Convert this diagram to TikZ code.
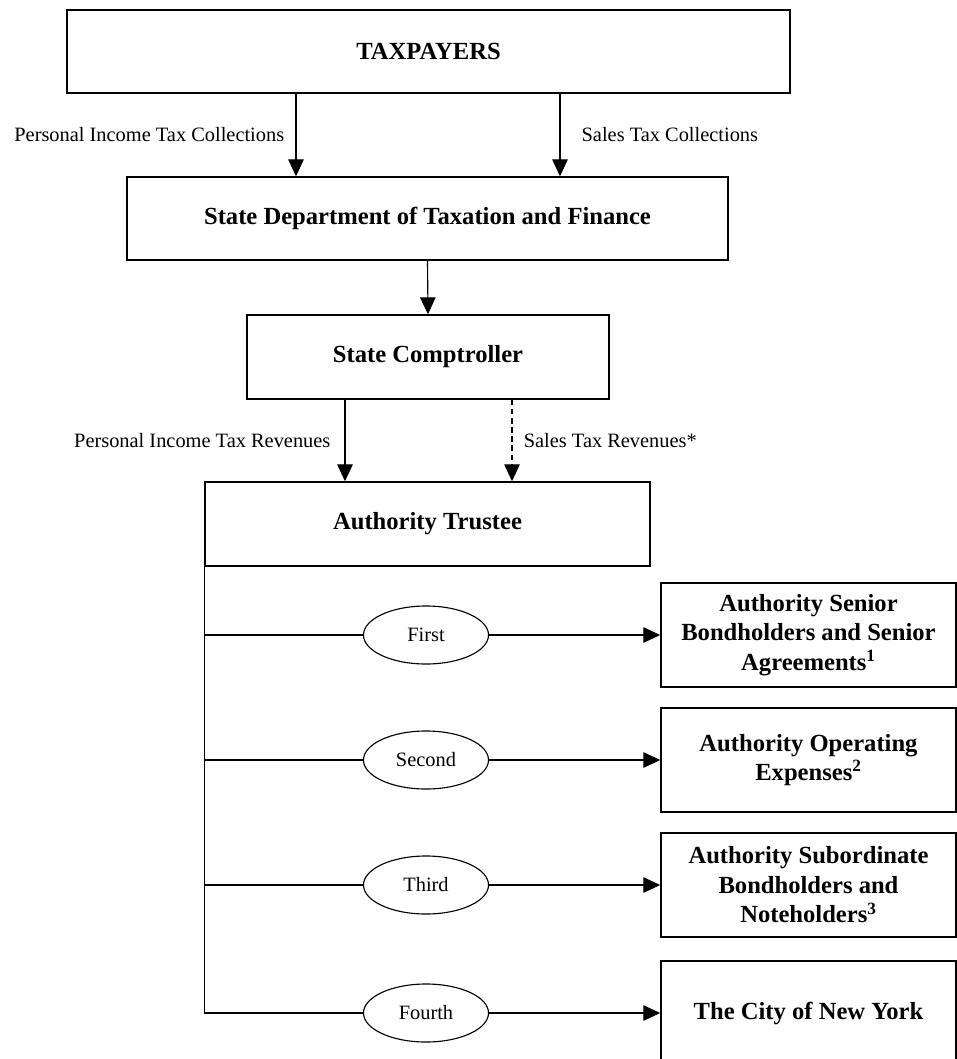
\documentclass[tikz,border=0pt]{standalone}
\usepackage{fontspec}
\setmainfont{Liberation Serif}
\usetikzlibrary{arrows.meta, shapes.geometric, positioning}
\tikzset{
  box/.style       = {draw, line width=1pt, align=center, inner sep=2pt,
                      font=\fontsize{17.5}{21}\selectfont\bfseries},
  flowarrow/.style = {-{Triangle[length=12pt, width=11pt]}, line width=0.8pt},
  branch/.style    = {line width=0.8pt},
  rank/.style      = {draw, ellipse, line width=0.8pt, minimum width=3.125cm,
                      minimum height=1.45cm, inner sep=0pt,
                      font=\fontsize{14.5}{17}\selectfont},
  lbl/.style       = {font=\fontsize{14.5}{17}\selectfont, inner sep=0pt},
  payee/.style     = {box, minimum width=7.375cm, minimum height=2.6cm},
}

\begin{document}
\begin{tikzpicture}[x=0.025cm, y=-0.025cm]
  \useasboundingbox (0,0) rectangle (957,1059);
  % top of the chain
  \node[box, minimum width=18.075cm, minimum height=2.075cm] (taxpayers) at (428.5,51.5) {TAXPAYERS};
  \node[box, minimum width=15.025cm, minimum height=2.075cm] (dept) at (427.5,218.5) {State Department of Taxation and Finance};
  \node[box, minimum width=9.05cm, minimum height=2.1cm] (comptroller) at (428,357) {State Comptroller};
  \node[box, minimum width=11.125cm, minimum height=2.1cm] (trustee) at (427.5,524) {Authority Trustee};
  % columns for the two streams
  \coordinate (pitIn)   at (296,0);
  \coordinate (salesIn) at (560,0);
  \coordinate (pitOut)  at (345,0);
  \coordinate (salesOut) at (512,0);
  \draw[flowarrow] (taxpayers.south -| pitIn) -- (dept.north -| pitIn)
    node[lbl, midway, left=8pt] {Personal Income Tax Collections};
  \draw[flowarrow] (taxpayers.south -| salesIn) -- (dept.north -| salesIn)
    node[lbl, midway, right=15pt] {Sales Tax Collections};
  \draw[flowarrow] (dept.south) -- (comptroller.north);
  \draw[flowarrow] (comptroller.south -| pitOut) -- (trustee.north -| pitOut)
    node[lbl, midway, left=10pt] {Personal Income Tax Revenues};
  \draw[flowarrow, dash pattern=on 4pt off 2.5pt] (comptroller.south -| salesOut) -- (trustee.north -| salesOut)
    node[lbl, midway, right=8pt] {Sales Tax Revenues*};
  % order of payment
  \node[rank] (first)  at (426,635)  {First};
  \node[rank] (second) at (426,760)  {Second};
  \node[rank] (third)  at (426,885)  {Third};
  \node[rank] (fourth) at (426,1013) {Fourth};
  \node[payee] (senior) at (808.5,635) {Authority Senior\\Bondholders and Senior\\Agreements\textsuperscript{1}};
  \node[payee] (opex)   at (808.5,760) {Authority Operating\\Expenses\textsuperscript{2}};
  \node[payee] (subord) at (808.5,885) {Authority Subordinate\\Bondholders and\\Noteholders\textsuperscript{3}};
  \node[payee] (city)   at (808.5,1013) {The City of New York};
  \draw[branch] (trustee.south west) |- (fourth);
  \foreach \r in {first, second, third}
    \draw[branch] (trustee.south west |- \r) -- (\r);
  \foreach \r/\p in {first/senior, second/opex, third/subord, fourth/city}
    \draw[flowarrow] (\r) -- (\p);
\end{tikzpicture}
\end{document}
